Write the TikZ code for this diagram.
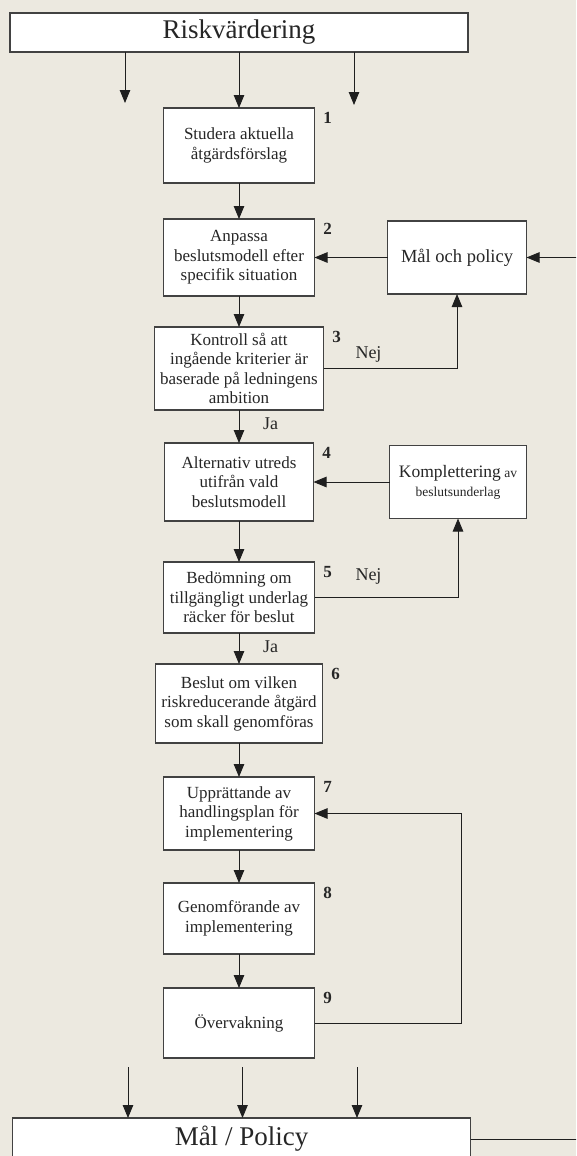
\documentclass[tikz,border=0pt]{standalone}
\usepackage{fontspec}
\setmainfont{Liberation Serif}
\usetikzlibrary{arrows.meta,positioning,calc}
\definecolor{rvbg}{RGB}{236,233,224}
\definecolor{rvedge}{RGB}{66,66,66}
\definecolor{rvink}{RGB}{38,38,38}
\tikzset{
  rvbox/.style={
    draw=rvedge, fill=white, line width=1.2pt, align=center,
    inner sep=2pt, outer sep=0pt, text=rvink,
    font=\fontsize{17}{19.5}\selectfont
  },
  stagebox/.style={rvbox, minimum width=151pt},
  headbox/.style={rvbox, minimum width=458pt, font=\fontsize{27}{30}\selectfont},
  sidebox/.style={rvbox, minimum height=73pt},
  num/.style={font=\fontsize{17}{17}\selectfont\bfseries, inner sep=0pt, text=rvink},
  lbl/.style={font=\fontsize{18}{18}\selectfont, inner sep=0pt, text=rvink},
  arr/.style={-{Triangle[length=13pt,width=10.5pt]}, draw=black!88, line width=0.9pt}
}
\begin{document}
\begin{tikzpicture}[x=1pt, y=-1pt]
  \fill[rvbg] (0,0) rectangle (576,1156);
  \useasboundingbox (0,0) rectangle (576,1156);
  \clip (0,0) rectangle (576,1156);
  % main column
  \node[headbox, minimum height=39pt] (risk) at (239,32.5) {Riskvärdering};
  \node[stagebox, minimum height=75pt, below=56pt of risk] (b1) {Studera aktuella\\åtgärdsförslag};
  \node[stagebox, minimum height=77pt, below=36pt of b1] (b2) {Anpassa\\beslutsmodell efter\\specifik situation};
  \node[stagebox, minimum width=169pt, minimum height=83pt, below=31pt of b2] (b3)
    {Kontroll så att\\ingående kriterier är\\baserade på ledningens\\ambition};
  \node[stagebox, minimum width=149pt, minimum height=78pt, below=33pt of b3] (b4)
    {Alternativ utreds\\utifrån vald\\beslutsmodell};
  \node[stagebox, minimum height=71pt, below=41pt of b4] (b5)
    {Bedömning om\\tillgängligt underlag\\räcker för beslut};
  \node[stagebox, minimum width=167pt, minimum height=79pt, below=31pt of b5] (b6)
    {Beslut om vilken\\riskreducerande åtgärd\\som skall genomföras};
  \node[stagebox, minimum height=73pt, below=34pt of b6] (b7)
    {Upprättande av\\handlingsplan för\\implementering};
  \node[stagebox, minimum height=71pt, below=33pt of b7] (b8) {Genomförande av\\implementering};
  \node[stagebox, minimum height=70pt, below=34pt of b8] (b9) {Övervakning};
  \node[headbox, minimum height=42pt, below=60pt of b9, xshift=2.5pt] (goal) {Mål / Policy};
  % side boxes
  \node[sidebox, minimum width=139pt, right=73pt of b2, font=\fontsize{18.5}{20}\selectfont] (pol) {Mål och policy};
  \node[sidebox, minimum width=137pt, right=76pt of b4, font=\fontsize{13.5}{19}\selectfont] (komp)
    {{\fontsize{17.5}{19}\selectfont Komplettering} av\\beslutsunderlag};
  % step numbers
  \foreach \b/\n in {b1/1,b2/2,b3/3,b4/4,b5/5,b6/6,b7/7,b8/8,b9/9}
    \node[num] (n\n) at ($(\b.north east)+(13,10)$) {\n};
  % labels
  \node[lbl] (nej1) at ($(b3.east)+(45,-14.5)$) {Nej};
  \node[lbl] (nej2) at ($(b5.east)+(54,-21.5)$) {Nej};
  \node[lbl] (ja1) at ($(b3.south)+(31.5,14)$) {Ja};
  \node[lbl] (ja2) at ($(b5.south)+(31.5,14)$) {Ja};
  % connectors
  \coordinate (tl) at (125,103);
  \coordinate (tr) at (354,105);
  \draw[arr] (risk.south -| tl) -- (tl);
  \draw[arr] (risk.south -| b1.north) -- (b1.north);
  \draw[arr] (risk.south -| tr) -- (tr);
  \foreach \p/\q in {b1/b2,b2/b3,b3/b4,b4/b5,b5/b6,b6/b7,b7/b8,b8/b9}
    \draw[arr] (\p.south) -- (\p.south |- \q.north);
  \draw[arr] (pol) -- (b2);
  \draw[arr] (komp) -- (b4);
  \draw[arr] (b3.east) -| (pol.south);
  \draw[arr] (b5.east) -| (komp.south);
  \draw[arr] (b9.east) -- ++(147,0) |- (b7.east);
  \draw[arr] (goal.east) -- ++(130,0) |- (pol.east);
  \coordinate (ul) at (128,1067);
  \coordinate (um) at (242.5,1067);
  \coordinate (ur) at (357,1067);
  \foreach \p in {ul,um,ur}
    \draw[arr] (\p) -- (\p |- goal.north);
\end{tikzpicture}
\end{document}
